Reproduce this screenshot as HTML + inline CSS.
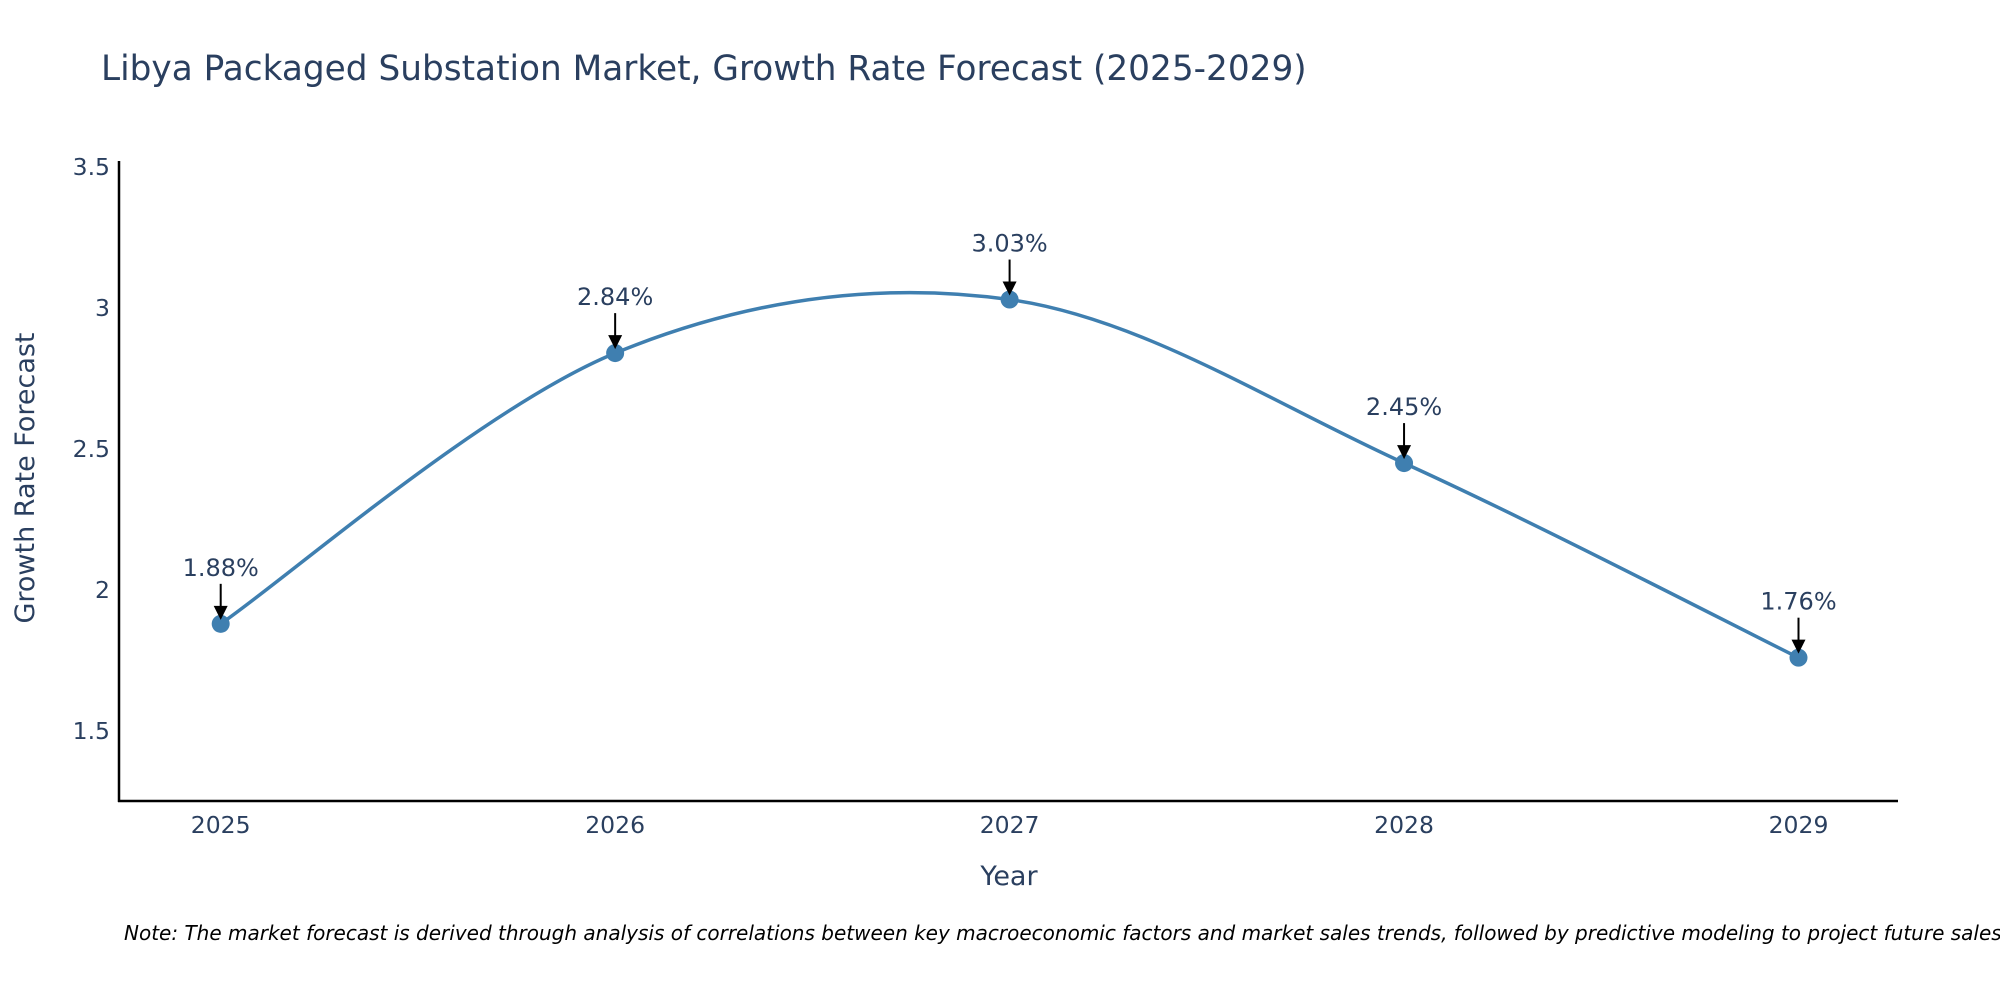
<!DOCTYPE html>
<html><head><meta charset="utf-8"><style>
body{margin:0;background:#fff;width:2000px;height:1000px;overflow:hidden;font-family:"Liberation Sans","DejaVu Sans",sans-serif}
</style></head><body>
<svg id="chart" width="2000" height="1000" xmlns="http://www.w3.org/2000/svg">
<text x="101" y="80" font-size="34.3" fill="#2a3f5f" font-family="DejaVu Sans, sans-serif">Libya Packaged Substation Market, Growth Rate Forecast (2025-2029)</text>
<g id="yticks"></g>
<g id="xticks"></g>
<line x1="119" y1="161" x2="119" y2="802" stroke="#000" stroke-width="2.5"/>
<line x1="118" y1="801" x2="1898" y2="801" stroke="#000" stroke-width="2.5"/>
<path id="line" fill="none" stroke="#3f7fb0" stroke-width="3.5"/>
<g id="points"></g>
<text x="1009" y="885" font-size="27" fill="#2a3f5f" text-anchor="middle" font-family="DejaVu Sans, sans-serif">Year</text>
<text transform="translate(34,478) rotate(-90)" font-size="27" fill="#2a3f5f" text-anchor="middle" font-family="DejaVu Sans, sans-serif">Growth Rate Forecast</text>
<text x="124" y="940" font-size="20" font-style="italic" fill="#000" font-family="DejaVu Sans, sans-serif">Note: The market forecast is derived through analysis of correlations between key macroeconomic factors and market sales trends, followed by predictive modeling to project future sales.</text>
</svg>
<script>
const years=[2025,2026,2027,2028,2029];
const values=[1.88,2.84,3.03,2.45,1.76];
const labels=["1.88%","2.84%","3.03%","2.45%","1.76%"];
const yTicks=[1.5,2,2.5,3,3.5];
const yTickLabels=["1.5","2","2.5","3","3.5"];
const NS="http://www.w3.org/2000/svg";
const xS=v=>220.7+(v-2025)*(1798.5-220.7)/4;
const yS=v=>731-(v-1.5)*282;
function mk(t,a,p){const e=document.createElementNS(NS,t);for(const k in a)e.setAttribute(k,a[k]);p.appendChild(e);return e;}
const yt=document.getElementById('yticks');
yTicks.forEach((v,i)=>{const t=mk('text',{x:110,y:yS(v)+8,'font-size':23.5,fill:'#2a3f5f','text-anchor':'end','font-family':'DejaVu Sans, sans-serif'},yt);t.textContent=yTickLabels[i];

});
const xt=document.getElementById('xticks');
years.forEach(y=>{const t=mk('text',{x:xS(y),y:833,'font-size':23.5,fill:'#2a3f5f','text-anchor':'middle','font-family':'DejaVu Sans, sans-serif'},xt);t.textContent=y;

});
const P=years.map((y,i)=>[xS(y),yS(values[i])]);
let d=`M${P[0][0]},${P[0][1]}`;const s=0.5;
for(let i=0;i<P.length-1;i++){const p0=P[i-1]||P[i],p1=P[i],p2=P[i+1],p3=P[i+2]||P[i+1];
const c1=[p1[0]+(p2[0]-p0[0])*s/3,p1[1]+(p2[1]-p0[1])*s/3];const c2=[p2[0]-(p3[0]-p1[0])*s/3,p2[1]-(p3[1]-p1[1])*s/3];
d+=` C${c1[0]},${c1[1]} ${c2[0]},${c2[1]} ${p2[0]},${p2[1]}`;}
document.getElementById('line').setAttribute('d',d);
const pts=document.getElementById('points');
P.forEach((p,i)=>{const c=mk('circle',{cx:p[0],cy:p[1],r:9,fill:'#3f7fb0'},pts);


const l=mk('line',{x1:p[0],y1:p[1]-40,x2:p[0],y2:p[1]-14,stroke:'#000','stroke-width':2},pts);


const h=mk('polygon',{points:`${p[0]-7},${p[1]-18} ${p[0]+7},${p[1]-18} ${p[0]},${p[1]-4}`,fill:'#000'},pts);


const t=mk('text',{x:p[0],y:p[1]-48,'font-size':24,fill:'#2a3f5f','text-anchor':'middle','font-family':'DejaVu Sans, sans-serif'},pts);t.textContent=labels[i];

});
</script>
</body></html>
